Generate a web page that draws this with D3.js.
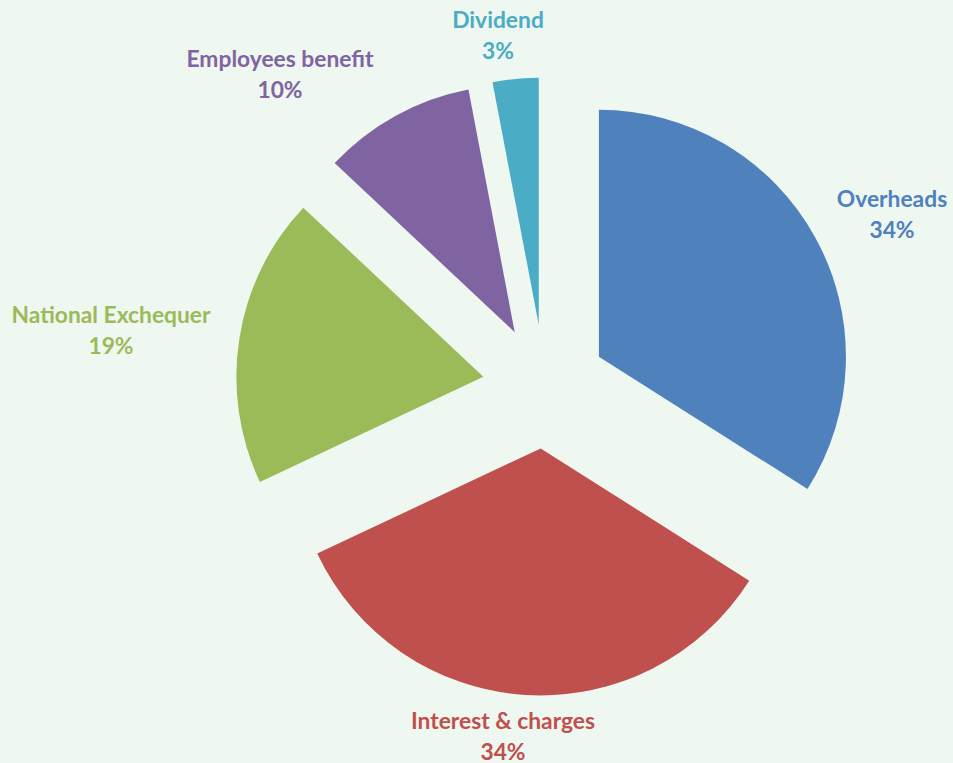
<!DOCTYPE html>
<html>
<head>
<meta charset="utf-8">
<script src="https://cdn.jsdelivr.net/npm/d3@7"></script>
<style>
  html, body { margin: 0; padding: 0; background: #EEF7F0; }
  svg { display: block; }
</style>
</head>
<body>
<svg id="chart" width="953" height="763"></svg>
<script>
// Expense breakdown, in percent, clockwise from 12 o'clock
const categories = ["Overheads", "Interest & charges", "National Exchequer", "Employees benefit", "Dividend"];
const shares = [34, 34, 19, 10, 3];
const colors = ["#4F81BD", "#C0504D", "#9BBB59", "#8064A2", "#4BACC6"];

// Label anchors: centre x and first-line baseline for each category
const labelAnchors = [[892, 207], [503, 729], [111, 323], [280, 67], [498, 28]];

const width = 953, height = 763;
const cx = 544.6, cy = 386.5;   // pie centre before explosion
const radius = 247;
const explode = 62;             // distance each slice is pulled out

const svg = d3.select("#chart");
svg.append("rect").attr("width", width).attr("height", height).attr("fill", "#EEF7F0");

const pie = d3.pie().sort(null).value(d => d.value).startAngle(0).endAngle(2 * Math.PI);
const arc = d3.arc().innerRadius(0).outerRadius(radius);

const data = categories.map((c, i) => ({ name: c, value: shares[i], color: colors[i] }));
const arcs = pie(data);

const g = svg.append("g").attr("transform", `translate(${cx},${cy})`);

g.selectAll("path.slice")
  .data(arcs)
  .join("path")
  .attr("class", "slice")
  .attr("fill", d => d.data.color)
  .attr("transform", d => {
    const mid = (d.startAngle + d.endAngle) / 2;
    return `translate(${Math.sin(mid) * explode},${-Math.cos(mid) * explode})`;
  })
  .attr("d", arc);

const labels = svg.selectAll("text.lbl")
  .data(arcs)
  .join("text")
  .attr("class", "lbl")
  .attr("text-anchor", "middle")
  .attr("font-family", "Lato, 'Open Sans', sans-serif")
  .attr("font-weight", 700)
  .attr("font-size", 22.8)
  .attr("fill", d => d.data.color)
  .attr("x", (d, i) => labelAnchors[i][0])
  .attr("y", (d, i) => labelAnchors[i][1]);

labels.append("tspan")
  .attr("x", (d, i) => labelAnchors[i][0])
  .text(d => d.data.name);
labels.append("tspan")
  .attr("x", (d, i) => labelAnchors[i][0])
  .attr("dy", 31)
  .text(d => d.data.value + "%");
</script>
</body>
</html>
